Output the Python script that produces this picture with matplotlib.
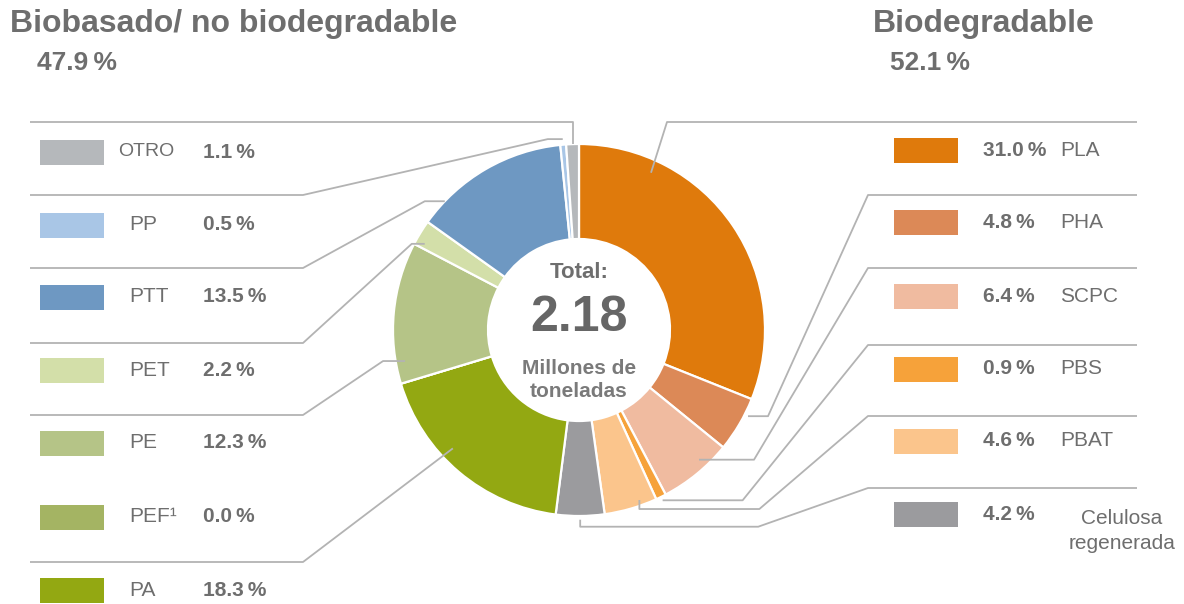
import numpy as np
import matplotlib.pyplot as plt
from matplotlib.patches import Rectangle

plt.rcParams['font.family'] = ['Liberation Sans', 'DejaVu Sans']

# biodegradable materials, clockwise from the top of the ring
bio_names = ['PLA', 'PHA', 'SCPC', 'PBS', 'PBAT', 'Celulosa\nregenerada']
bio_share = [31.0, 4.8, 6.4, 0.9, 4.6, 4.2]
bio_colors = ['#DF7A0C', '#DC8957', '#F0BBA0', '#F6A23A', '#FBC58C', '#9B9B9E']

# bio-based / not biodegradable, continuing clockwise up the left side
nb_names = ['PA', 'PEF\u00b9', 'PE', 'PET', 'PTT', 'PP', 'OTRO']
nb_share = [18.3, 0.0, 12.3, 2.2, 13.5, 0.5, 1.1]
nb_colors = ['#93A812', '#A4B463', '#B5C487', '#D3DFA9', '#6E98C2', '#A9C6E6', '#B5B8BB']

group_titles = ['Biobasado/ no biodegradable', 'Biodegradable']
group_pct = [47.9, 52.1]
total = 2.18

grey = '#6E6E6E'
line_c = '#B3B3B3'
sp = '\u2009'

W, H = 1184, 604
fig = plt.figure(figsize=(W / 100, H / 100), dpi=100)
ax = fig.add_axes([0, 0, 1, 1])

cx, cy, R = 579, 330, 186
wedges, _ = ax.pie(bio_share + nb_share, colors=bio_colors + nb_colors,
                   startangle=-90, counterclock=True, center=(cx, cy), radius=R,
                   wedgeprops=dict(width=95, edgecolor='white', linewidth=1.6))
ax.set_xlim(0, W)
ax.set_ylim(H, 0)
ax.set_aspect('equal')
ax.axis('off')


def anchor(w, pos, rf):
    a = np.deg2rad(w.theta1 + pos * (w.theta2 - w.theta1))
    return cx + rf * R * np.cos(a), cy + rf * R * np.sin(a)


def leader(pts):
    xs, ys = zip(*pts)
    ax.plot(xs, ys, color=line_c, lw=1.3, zorder=5, solid_capstyle='butt')


# right-hand legend (biodegradable)
r_rows = [150, 222, 296, 369, 441, 514]
r_sep = [122, 195, 268, 345, 416, 488]
r_bend = [667, 868, 868, 868, 868, 868]
# (position inside wedge, radius factor, horizontal stub, drop)
r_lead = [(0.22, 0.93, 0, 0), (0.3, 1.02, 20, 0), (0.35, 0.95, 55, 0),
          (0.5, 1.02, 80, 0), (0.3, 0.97, 120, 9), (0.5, 1.02, 178, 7)]
for i, name in enumerate(bio_names):
    y = r_rows[i]
    ax.add_patch(Rectangle((894, y - 12.5), 64, 25, color=bio_colors[i], lw=0))
    ax.text(983, y, f'{bio_share[i]:.1f}{sp}%', fontsize=15, fontweight='bold',
            color=grey, ha='left', va='center')
    if '\n' in name:
        ax.text(1122, y + 17, name, fontsize=15, color=grey, ha='center',
                va='center', linespacing=1.45)
    else:
        ax.text(1060, y, name, fontsize=15, color=grey, ha='left', va='center')
    pos, rf, stub, drop = r_lead[i]
    axx, ayy = anchor(wedges[i], pos, rf)
    leader([(1137, r_sep[i]), (r_bend[i], r_sep[i]), (axx + stub, ayy + drop),
            (axx, ayy + drop), (axx, ayy)])

# left-hand legend (bio-based, not biodegradable), top row is the last wedge
l_rows = [590, 517, 443, 370, 297, 225, 152]
l_sep = [562, None, 415, 343, 268, 195, 122]
l_lead = [(0.6, 0.93, 0), None, (0.15, 0.95, 22), (0.2, 0.95, 13),
          (0.17, 1.0, 20), (0.5, 1.03, 15), (0.5, 1.0, None)]
nb0 = len(bio_share)
for i, name in enumerate(nb_names):
    y = l_rows[i]
    ax.add_patch(Rectangle((40, y - 12.5), 64, 25, color=nb_colors[i], lw=0))
    ax.text(118 if name == 'OTRO' else 129, y, name, fontsize=15 if name != 'OTRO' else 14,
            color=grey, ha='left', va='center')
    ax.text(203, y, f'{nb_share[i]:.1f}{sp}%', fontsize=15, fontweight='bold',
            color=grey, ha='left', va='center')
    if l_lead[i] is None:
        continue
    pos, rf, stub = l_lead[i]
    axx, ayy = anchor(wedges[nb0 + i], pos, rf)
    if stub is None:
        leader([(30, l_sep[i]), (axx, l_sep[i]), (axx, ayy)])
    else:
        leader([(30, l_sep[i]), (303, l_sep[i]), (axx - stub, ayy), (axx, ayy)])

# group headings
ax.text(10, 24, group_titles[0], fontsize=23, fontweight='bold', color=grey,
        ha='left', va='center')
ax.text(37, 63, f'{group_pct[0]:.1f}{sp}%', fontsize=19, fontweight='bold',
        color=grey, ha='left', va='center')
ax.text(873, 24, group_titles[1], fontsize=23, fontweight='bold', color=grey,
        ha='left', va='center')
ax.text(890, 63, f'{group_pct[1]:.1f}{sp}%', fontsize=19, fontweight='bold',
        color=grey, ha='left', va='center')

# centre of the ring
ax.text(cx, 272, 'Total:', fontsize=16, fontweight='bold', color=grey,
        ha='center', va='center')
ax.text(cx, 318, f'{total:.2f}', fontsize=36, fontweight='bold', color='#666666',
        ha='center', va='center')
ax.text(cx, 380, 'Millones de\ntoneladas', fontsize=15, fontweight='bold',
        color='#7A7A7A', ha='center', va='center', linespacing=1.3)

fig.savefig('out.png', dpi=100, facecolor='white')
